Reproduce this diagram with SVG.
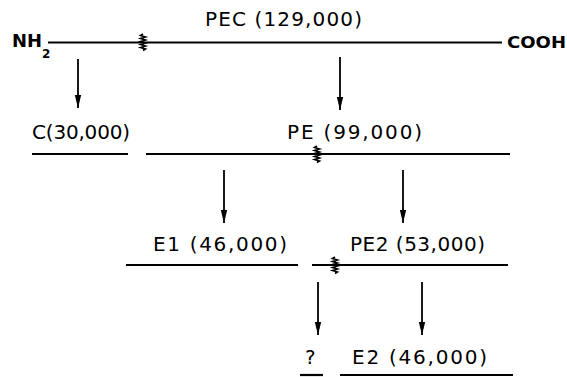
<svg xmlns="http://www.w3.org/2000/svg" width="567" height="377" viewBox="0 0 567 377">
  <style>
    .lbl { font-family: "DejaVu Sans", "Liberation Sans", sans-serif; font-size: 20px; fill: #000; }
    .end { font-family: "DejaVu Sans", "Liberation Sans", sans-serif; font-weight: bold; fill: #000; }
    .chain { stroke: #000; stroke-width: 2.2; fill: none; }
    .cut { stroke: #000; stroke-width: 1.6; fill: none; stroke-linejoin: miter; }
    .arrow { stroke: #000; stroke-width: 1.8; fill: none; marker-end: url(#head); }
  </style>
  <defs>
    <marker id="head" markerUnits="userSpaceOnUse" markerWidth="8" markerHeight="14" viewBox="0 0 8 14" refX="4" refY="13" orient="0">
      <path d="M0.8,0 L4,13 L7.2,0 Z" fill="#000"/>
    </marker>
    <!-- cleavage mark drawn across a chain -->
    <path id="cut" d="M0,-9 l-2.5,1.5 l5,1.5 l-5,1.5 l5,1.5 l-5,1.5 l5,1.5 l-5,1.5 l5,1.5 l-5,1.5 l5,1.5 l-2.5,1.5" />
  </defs>

  <!-- precursor chain -->
  <g id="pec">
    <text class="lbl" x="205" y="26" textLength="157" lengthAdjust="spacing">PEC (129,000)</text>
    <text class="end" x="12" y="47" font-size="17" textLength="30" lengthAdjust="spacingAndGlyphs">NH</text>
    <text class="end" x="42" y="58" font-size="12">2</text>
    <line class="chain" x1="48" y1="42.5" x2="502" y2="42.5"/>
    <use href="#cut" x="143" y="43" class="cut"/>
    <text class="end" x="507" y="48" font-size="15" textLength="59" lengthAdjust="spacingAndGlyphs">COOH</text>
  </g>

  <g id="c">
    <text class="lbl" x="32" y="139" textLength="98" lengthAdjust="spacing">C(30,000)</text>
    <line class="chain" x1="32" y1="154" x2="128" y2="154"/>
  </g>

  <g id="pe">
    <text class="lbl" x="287" y="139" textLength="135" lengthAdjust="spacing">PE (99,000)</text>
    <line class="chain" x1="146" y1="154" x2="510" y2="154"/>
    <use href="#cut" x="317" y="155" class="cut"/>
  </g>

  <g id="e1">
    <text class="lbl" x="153" y="251" textLength="134" lengthAdjust="spacing">E1 (46,000)</text>
    <line class="chain" x1="126" y1="265" x2="298" y2="265"/>
  </g>

  <g id="pe2">
    <text class="lbl" x="350" y="251" textLength="135" lengthAdjust="spacing">PE2 (53,000)</text>
    <line class="chain" x1="312" y1="265" x2="508" y2="265"/>
    <use href="#cut" x="335" y="266" class="cut"/>
  </g>

  <g id="unknown">
    <text class="lbl" x="305" y="364">?</text>
    <line class="chain" x1="300" y1="375" x2="323" y2="375"/>
  </g>

  <g id="e2">
    <text class="lbl" x="352" y="364" textLength="135" lengthAdjust="spacing">E2 (46,000)</text>
    <line class="chain" x1="340" y1="375" x2="513" y2="375"/>
  </g>

  <g id="connectors">
    <line class="arrow" x1="78" y1="59" x2="78" y2="108"/>
    <line class="arrow" x1="340" y1="57" x2="340" y2="110"/>
    <line class="arrow" x1="224" y1="170" x2="224" y2="223"/>
    <line class="arrow" x1="403" y1="170" x2="403" y2="223"/>
    <line class="arrow" x1="318" y1="282" x2="318" y2="335"/>
    <line class="arrow" x1="422" y1="282" x2="422" y2="335"/>
  </g>
</svg>
